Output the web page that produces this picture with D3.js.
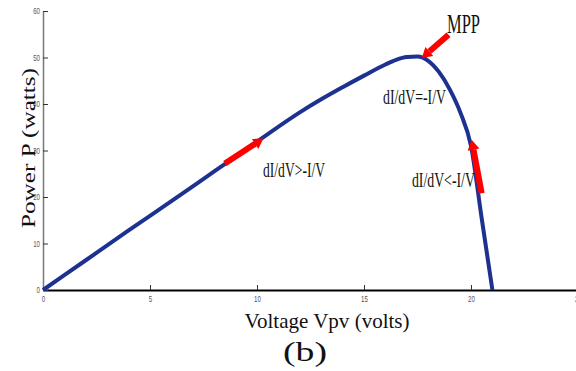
<!DOCTYPE html>
<meta charset="utf-8">
<style>
  html, body { margin:0; padding:0; overflow:hidden; background:#fff }
  .tick text { font-family: "Liberation Sans", Arial, sans-serif; fill:#555 }
  .serif { font-family: "Times New Roman", Times, "Liberation Serif", serif; fill:#111 }
</style>
<svg id="mainsvg" width="576" height="371"></svg>
<script src="https://cdn.jsdelivr.net/npm/d3@7"></script>
<script>

// P-V curve of the panel (volts, watts)
var voltage = [0, 2, 4, 6, 8, 10, 12, 13, 14, 15, 16, 16.5, 17, 17.5, 18, 18.5, 19, 19.5, 20, 20.5, 21];
var power   = [0, 6.4, 12.8, 19.1, 25.5, 31.9, 38.2, 41.0, 43.6, 46.1, 48.5, 49.5, 50.1, 50.2, 49.3, 46.9, 43.2, 38.2, 31.0, 15.4, 0];

var xTicks = [0, 5, 10, 15, 20, 25];
var yTicks = [0, 10, 20, 30, 40, 50, 60];

// arrows: [fromV, fromP, toV, toP]
var arrowsV = [[8.5, 27.2, 10.3, 32.6], [18.95, 54.9, 17.7, 49.9], [20.5, 20.8, 20.03, 32.3]];

// annotation labels (centre of text, baseline)
var labelText = ["MPP", "dI/dV=-I/V", "dI/dV>-I/V", "dI/dV<-I/V"];
var labelV    = [19.65, 17.36, 11.73, 18.71];
var labelP    = [55.3, 40.0, 24.3, 22.15];

var svg = d3.select("#mainsvg");

var x = d3.scaleLinear().domain([0, 25]).range([43, 578]);
var y = d3.scaleLinear().domain([0, 60]).range([290, 11]);

function serifText(px, py, str, size, len, rot) {
    var t = svg.append("text")
        .attr("class", "serif")
        .attr("x", px).attr("y", py)
        .attr("font-size", size)
        .attr("text-anchor", "middle")
        .attr("textLength", len)
        .attr("lengthAdjust", "spacingAndGlyphs")
        .text(str);
    if (rot) t.attr("transform", "rotate(" + rot + "," + px + "," + py + ")");
    return t;
}

// x axis
var gx = svg.append("g")
    .attr("transform", "translate(0," + y(0) + ")")
    .call(d3.axisBottom(x).tickValues(xTicks).tickSize(0).tickPadding(6));
gx.select(".domain").attr("stroke", "#000").attr("stroke-width", 2);
gx.selectAll(".tick line").attr("y2", -5).attr("stroke", "#333");
gx.selectAll(".tick text")
    .attr("font-size", 9)
    .attr("textLength", function(d) { return String(d).length * 3.4; })
    .attr("lengthAdjust", "spacingAndGlyphs");

// y axis
var gy = svg.append("g")
    .attr("transform", "translate(" + x(0) + ",0)")
    .call(d3.axisLeft(y).tickValues(yTicks).tickSize(0).tickPadding(3));
gy.select(".domain").attr("stroke", "#777").attr("stroke-width", 1.5);
gy.selectAll(".tick line").attr("x2", 5).attr("stroke", "#333");
gy.selectAll(".tick text")
    .attr("font-size", 9)
    .attr("textLength", function(d) { return String(d).length * 3.4; })
    .attr("lengthAdjust", "spacingAndGlyphs");

// curve
var pts = voltage.map(function(v, i) { return [v, power[i]]; });
var line = d3.line()
    .x(function(d) { return x(d[0]); })
    .y(function(d) { return y(d[1]); })
    .curve(d3.curveMonotoneX);

svg.append("path")
    .datum(pts)
    .attr("d", line)
    .attr("fill", "none")
    .attr("stroke", "#1c3190")
    .attr("stroke-width", 4)
    .attr("stroke-linecap", "butt");

// red arrows
arrowsV.forEach(function(a) {
    var x1 = x(a[0]), y1 = y(a[1]), x2 = x(a[2]), y2 = y(a[3]);
    var ang = Math.atan2(y2 - y1, x2 - x1);
    var hl = 10, hw = 6;
    var bx = x2 - hl * Math.cos(ang), by = y2 - hl * Math.sin(ang);
    svg.append("line")
        .attr("x1", x1).attr("y1", y1).attr("x2", bx).attr("y2", by)
        .attr("stroke", "#ff0000").attr("stroke-width", 6);
    var px = -Math.sin(ang), py = Math.cos(ang);
    svg.append("polygon")
        .attr("points", [[x2, y2], [bx + hw * px, by + hw * py], [bx - hw * px, by - hw * py]].join(" "))
        .attr("fill", "#ff0000");
});

// annotations
var sizes = [27, 22, 22, 22];
var lens = [33, 63, 62, 63];
labelText.forEach(function(s, i) {
    serifText(x(labelV[i]), y(labelP[i]), s, sizes[i], lens[i]);
});

// axis titles
serifText(327, 328, "Voltage Vpv (volts)", 22, 165);
serifText(305, 361, "(b)", 27, 44);
serifText(35, 148, "Power P (watts)", 19, 160, -90);

</script>
